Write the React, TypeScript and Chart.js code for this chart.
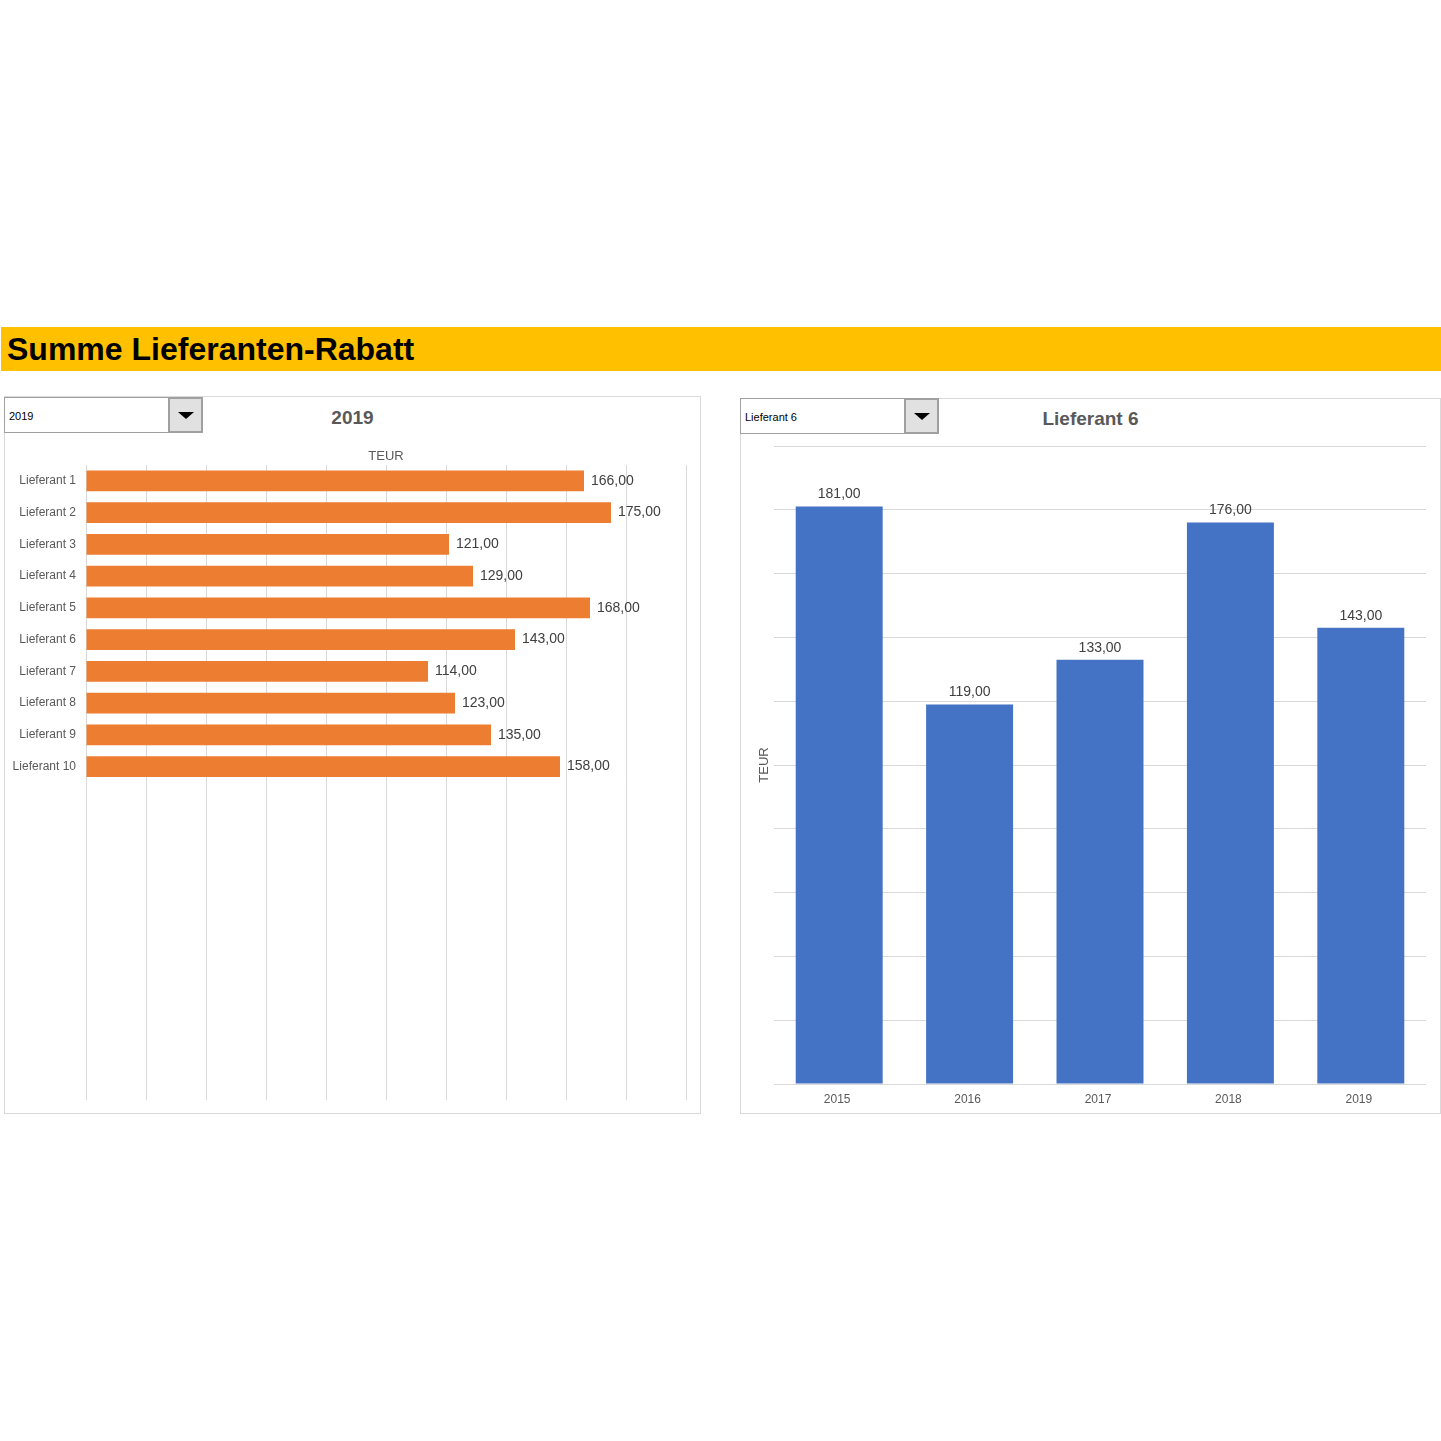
import React, { useEffect, useRef } from 'react';
import { Chart, registerables } from 'chart.js';

Chart.register(...registerables);

// ---------- data ----------
const pageTitle = 'Summe Lieferanten-Rabatt';
const unitLabel = 'TEUR';
const selectedYear = '2019';
const selectedSupplier = 'Lieferant 6';

const supplierLabels = [
  'Lieferant 1', 'Lieferant 2', 'Lieferant 3', 'Lieferant 4', 'Lieferant 5',
  'Lieferant 6', 'Lieferant 7', 'Lieferant 8', 'Lieferant 9', 'Lieferant 10',
];
const supplierValues2019 = [166, 175, 121, 129, 168, 143, 114, 123, 135, 158];
const emptyCategorySlots = 10;

const yearLabels = ['2015', '2016', '2017', '2018', '2019'];
const supplier6Values = [181, 119, 133, 176, 143];

const axisMin = 0;
const axisMax = 200;
const axisStep = 20;

// ---------- styles ----------
const FONT = "'Liberation Sans', Arial, sans-serif";
const ORANGE = '#ED7D31';
const BLUE = '#4472C4';
const GRID = '#d9d9d9';
const LABEL = '#595959';
const VALUE = '#404040';

const fmt = (v: number) => v.toFixed(2).replace('.', ',');

const valueLabelPlugin = {
  id: 'valueLabels',
  afterDatasetsDraw(chart: any) {
    const ctx = chart.ctx;
    const horizontal = chart.options.indexAxis === 'y';
    chart.data.datasets.forEach((ds: any, di: number) => {
      const meta = chart.getDatasetMeta(di);
      meta.data.forEach((el: any, i: number) => {
        const v = ds.data[i];
        if (v == null) return;
        ctx.save();
        ctx.font = '14px ' + FONT;
        ctx.fillStyle = VALUE;
        ctx.textBaseline = 'middle';
        if (horizontal) {
          ctx.textAlign = 'left';
          ctx.fillText(fmt(v), el.x + 7, el.y);
        } else {
          ctx.textAlign = 'center';
          ctx.fillText(fmt(v), el.x, el.y - 12);
        }
        ctx.restore();
      });
    });
  },
};

Chart.defaults.font.family = FONT;

function LeftChart() {
  const ref = useRef<HTMLCanvasElement>(null);
  useEffect(() => {
    const labels = [...supplierLabels, ...Array(emptyCategorySlots).fill('')];
    const data = [...supplierValues2019, ...Array(emptyCategorySlots).fill(null)];
    const chart = new Chart(ref.current as HTMLCanvasElement, {
      type: 'bar',
      data: {
        labels,
        datasets: [
          {
            data,
            backgroundColor: ORANGE,
            barPercentage: 0.66,
            categoryPercentage: 1,
          },
        ],
      },
      options: {
        indexAxis: 'y',
        responsive: false,
        animation: false,
        layout: { padding: { left: 0, right: 14, top: 0, bottom: 13 } },
        plugins: { legend: { display: false }, tooltip: { enabled: false } },
        scales: {
          x: {
            position: 'top',
            min: axisMin,
            max: axisMax,
            ticks: { display: false, stepSize: axisStep },
            grid: { color: GRID, drawTicks: false, lineWidth: 1 },
            border: { display: false },
            title: {
              display: true,
              text: unitLabel,
              color: LABEL,
              font: { size: 13 },
              padding: { top: 9, bottom: 0 },
            },
            afterFit: (s: any) => { s.height = 25; s.paddingLeft = 0; s.paddingRight = 0; },
          },
          y: {
            ticks: { color: LABEL, font: { size: 12 }, padding: 10 },
            grid: { display: false, drawTicks: false },
            border: { display: false },
            afterFit: (s: any) => { s.width = 82; s.paddingTop = 0; s.paddingBottom = 0; },
          },
        },
      } as any,
      plugins: [valueLabelPlugin],
    });
    return () => chart.destroy();
  }, []);
  return (
    <canvas
      ref={ref}
      width={696}
      height={673}
      style={{ position: 'absolute', left: 4, top: 440, width: 696, height: 673 }}
    />
  );
}

function RightChart() {
  const ref = useRef<HTMLCanvasElement>(null);
  useEffect(() => {
    const chart = new Chart(ref.current as HTMLCanvasElement, {
      type: 'bar',
      data: {
        labels: yearLabels,
        datasets: [
          {
            data: supplier6Values,
            backgroundColor: BLUE,
            barPercentage: 0.667,
            categoryPercentage: 1,
          },
        ],
      },
      options: {
        responsive: false,
        animation: false,
        layout: { padding: { left: 0, right: 13, top: 6, bottom: 0 } },
        plugins: { legend: { display: false }, tooltip: { enabled: false } },
        scales: {
          x: {
            ticks: { color: LABEL, font: { size: 12 }, padding: 8, labelOffset: -2 },
            grid: { display: false, drawTicks: false },
            border: { display: false },
            afterFit: (s: any) => { s.height = 29; s.paddingLeft = 0; s.paddingRight = 0; },
          },
          y: {
            min: axisMin,
            max: axisMax,
            ticks: { display: false, stepSize: axisStep },
            grid: { color: GRID, drawTicks: false, lineWidth: 1 },
            border: { display: false },
            title: {
              display: true,
              text: unitLabel,
              color: LABEL,
              font: { size: 13 },
              padding: { top: 16, bottom: 0 },
            },
            afterFit: (s: any) => { s.width = 33; s.paddingTop = 0; s.paddingBottom = 0; },
          },
        },
      } as any,
      plugins: [valueLabelPlugin],
    });
    return () => chart.destroy();
  }, []);
  return (
    <canvas
      ref={ref}
      width={698}
      height={673}
      style={{ position: 'absolute', left: 741, top: 440, width: 698, height: 673 }}
    />
  );
}

function Dropdown({ left, top, text }: { left: number; top: number; text: string }) {
  return (
    <div
      style={{
        position: 'absolute',
        left,
        top,
        width: 199,
        height: 36,
        boxSizing: 'border-box',
        border: '1px solid #a0a0a0',
        background: '#fff',
        fontFamily: FONT,
        fontSize: 11,
        color: '#000',
      }}
    >
      <div style={{ position: 'absolute', left: 4, top: 1, lineHeight: '34px' }}>{text}</div>
      <div
        style={{
          position: 'absolute',
          right: -1,
          top: -1,
          width: 35,
          height: 36,
          boxSizing: 'border-box',
          border: '2px solid #a0a0a0',
          background: '#e1e1e1',
        }}
      >
        <div
          style={{
            position: 'absolute',
            left: 8,
            top: 13,
            width: 0,
            height: 0,
            borderLeft: '8px solid transparent',
            borderRight: '8px solid transparent',
            borderTop: '7px solid #000',
          }}
        />
      </div>
    </div>
  );
}

export default function App() {
  return (
    <div style={{ position: 'absolute', left: 0, top: 0, width: 1441, height: 1441, background: '#fff', fontFamily: FONT }}>
      <div
        style={{
          position: 'absolute',
          left: 1,
          top: 327,
          width: 1440,
          height: 44,
          background: '#FFC000',
          color: '#000',
          fontWeight: 'bold',
          fontSize: 32,
          lineHeight: '44px',
          paddingLeft: 6,
          boxSizing: 'border-box',
          whiteSpace: 'nowrap',
        }}
      >
        {pageTitle}
      </div>

      <div style={{ position: 'absolute', left: 4, top: 396, width: 697, height: 718, boxSizing: 'border-box', border: '1px solid #d9d9d9' }} />
      <div style={{ position: 'absolute', left: 740, top: 398, width: 701, height: 716, boxSizing: 'border-box', border: '1px solid #d9d9d9' }} />

      <div style={{ position: 'absolute', left: 4, top: 408, width: 697, textAlign: 'center', fontSize: 19, fontWeight: 'bold', lineHeight: '20px', color: LABEL }}>
        {selectedYear}
      </div>
      <div style={{ position: 'absolute', left: 740, top: 409, width: 701, textAlign: 'center', fontSize: 19, fontWeight: 'bold', lineHeight: '20px', color: LABEL }}>
        {selectedSupplier}
      </div>

      <LeftChart />
      <RightChart />

      <Dropdown left={4} top={397} text={selectedYear} />
      <Dropdown left={740} top={398} text={selectedSupplier} />
    </div>
  );
}
